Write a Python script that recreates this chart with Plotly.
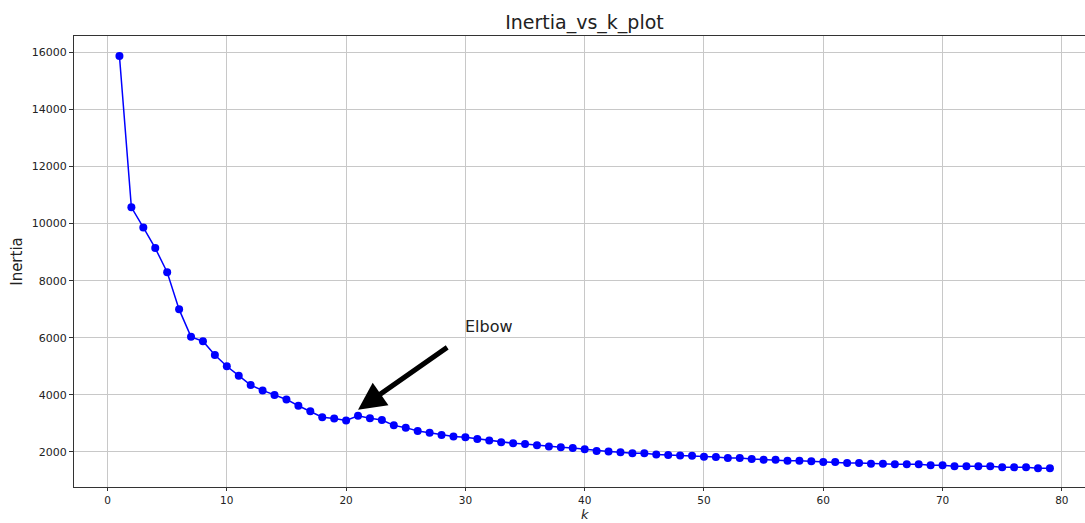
import plotly.graph_objects as go

k_values = list(range(1, 80))
inertia = [
    15870, 10569, 9866, 9141, 8297, 6995, 6032, 5880, 5399, 5001,
    4674, 4343, 4157, 3992, 3840, 3619, 3429, 3218, 3170, 3105,
    3270, 3178, 3121, 2932, 2852, 2736, 2677, 2596, 2540, 2515,
    2456, 2400, 2340, 2305, 2280, 2235, 2189, 2165, 2140, 2095,
    2035, 2014, 1990, 1955, 1955, 1909, 1895, 1880, 1870, 1830,
    1825, 1790, 1790, 1754, 1731, 1731, 1696, 1696, 1673, 1650,
    1650, 1614, 1614, 1591, 1591, 1568, 1568, 1568, 1533, 1533,
    1498, 1498, 1498, 1498, 1463, 1463, 1463, 1428, 1428,
]
x_ticks = [0, 10, 20, 30, 40, 50, 60, 70, 80]
y_ticks = [2000, 4000, 6000, 8000, 10000, 12000, 14000, 16000]
y_tick_labels = [str(v) for v in y_ticks]

title_text = "Inertia_vs_k_plot"
x_label = "<i>k</i>"
y_label = "Inertia"
elbow_label = "Elbow"
elbow_k = 21
elbow_head_y = 3480
elbow_tail = (28.6, 5700)
elbow_text_pos = (29.8, 6400)

font = "DejaVu Sans"

fig = go.Figure()
fig.add_trace(go.Scatter(
    x=k_values, y=inertia, mode="lines+markers",
    line=dict(color="#0000ff", width=1.5),
    marker=dict(color="#0000ff", size=8),
    showlegend=False,
))

fig.add_annotation(
    x=elbow_k, y=elbow_head_y, ax=elbow_tail[0], ay=elbow_tail[1],
    xref="x", yref="y", axref="x", ayref="y",
    showarrow=True, arrowhead=2, arrowsize=1.1, arrowwidth=5,
    arrowcolor="black", text="",
)
fig.add_annotation(
    x=elbow_text_pos[0], y=elbow_text_pos[1], xref="x", yref="y",
    text=elbow_label, showarrow=False, xanchor="left", yanchor="middle",
    font=dict(family=font, size=16, color="#222"),
)
# x-axis title placed as annotation near the bottom edge, as in the reference
fig.add_annotation(
    x=40, y=-36 / 451, xref="x", yref="paper",
    text=x_label, showarrow=False, xanchor="center", yanchor="bottom",
    borderpad=0, font=dict(family=font, size=13, color="#222"),
)

fig.update_layout(
    width=1085, height=523,
    margin=dict(l=74, r=0, t=36, b=36),
    paper_bgcolor="white", plot_bgcolor="white",
    font=dict(family=font, color="#222"),
    title=dict(text=title_text, x=(499 + 670) / 2 / 1085, xanchor="center",
               y=1 - 22 / 523, yanchor="middle",
               font=dict(family=font, size=19, color="#222")),
    xaxis=dict(
        range=[-2.81, 81.94], tickvals=x_ticks, ticks="outside", ticklen=3,
        tickcolor="#333", tickfont=dict(size=10.5, family=font, color="#222"),
        showgrid=True, gridcolor="#c8c8c8", gridwidth=1, zeroline=False,
        showline=True, linecolor="#333", linewidth=1, mirror=True,
        automargin=False,
    ),
    yaxis=dict(
        range=[773, 16571], tickvals=y_ticks, ticktext=y_tick_labels,
        ticks="outside", ticklen=4,
        tickcolor="#333", tickfont=dict(size=11, family=font, color="#222"),
        showgrid=True, gridcolor="#c8c8c8", gridwidth=1, zeroline=False,
        showline=True, linecolor="#333", linewidth=1, mirror=False,
        title=dict(text=y_label, font=dict(size=15, family=font, color="#222"), standoff=5),
        automargin=False,
    ),
)

fig.write_html("out.html")
